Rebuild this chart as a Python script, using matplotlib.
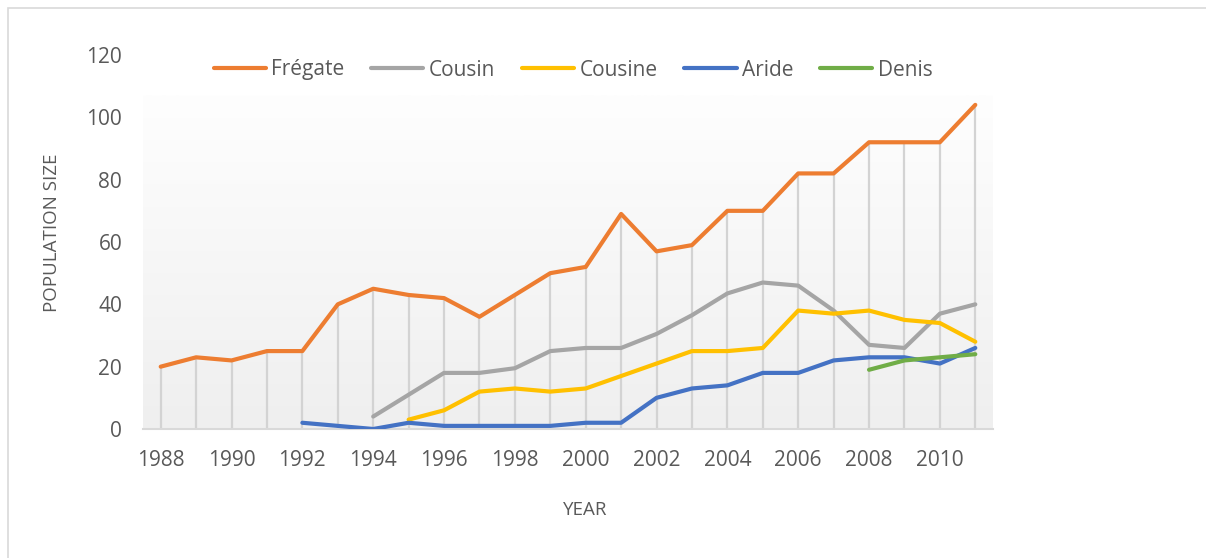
import numpy as np
import matplotlib
matplotlib.use('Agg')
from matplotlib import pyplot as plt
from matplotlib.patches import Rectangle
from matplotlib.colors import LinearSegmentedColormap

years = list(range(1988, 2012))
fregate = [20, 23, 22, 25, 25, 40, 45, 43, 42, 36, 43, 50, 52, 69, 57, 59, 70, 70, 82, 82, 92, 92, 92, 104]
cousin_years = list(range(1994, 2012))
cousin = [4, 11, 18, 18, 19.5, 25, 26, 26, 30.5, 36.5, 43.5, 47, 46, 38, 27, 26, 37, 40]
cousine_years = list(range(1995, 2012))
cousine = [3, 6, 12, 13, 12, 13, 17, 21, 25, 25, 26, 38, 37, 38, 35, 34, 28]
aride_years = list(range(1992, 2012))
aride = [2, 1, 0, 2, 1, 1, 1, 1, 2, 2, 10, 13, 14, 18, 18, 22, 23, 23, 21, 26]
denis_years = [2008, 2009, 2010, 2011]
denis = [19, 22, 23, 24]

plt.rcParams['font.family'] = ['Open Sans', 'DejaVu Sans']
txt = '#595959'

fig = plt.figure(figsize=(12.06, 5.58), dpi=100)
# chart border (left and top visible)
fig.patches.append(Rectangle((8 / 1206, -0.1), 1.2, 1 - 8 / 558 + 0.1, transform=fig.transFigure,
                             fill=False, edgecolor='#d9d9d9', lw=1.2))

ax = fig.add_axes([143 / 1206, 1 - 429 / 558, 850 / 1206, 374 / 558])

# gradient plot area
grad = np.linspace(0, 1, 256).reshape(-1, 1)
cmap = LinearSegmentedColormap.from_list('g', ['#efefef', '#fefefe'])
ax.imshow(grad, cmap=cmap, aspect='auto', origin='lower',
          extent=[1987.5, 2011.5, 0, 107], zorder=0)

# drop lines
ax.vlines(years, 0, fregate, color='#d3d3d3', lw=1.6, zorder=1)

lw = 3
ax.plot(years, fregate, color='#ED7D31', lw=lw, label='Frégate', zorder=3, solid_capstyle='round')
ax.plot(cousin_years, cousin, color='#A5A5A5', lw=lw, label='Cousin', zorder=3, solid_capstyle='round')
ax.plot(cousine_years, cousine, color='#FFC000', lw=lw, label='Cousine', zorder=3, solid_capstyle='round')
ax.plot(aride_years, aride, color='#4472C4', lw=lw, label='Aride', zorder=3, solid_capstyle='round')
ax.plot(denis_years, denis, color='#70AD47', lw=lw, label='Denis', zorder=3, solid_capstyle='round')

ax.set_xlim(1987.5, 2011.5)
ax.set_ylim(0, 120)
ax.set_yticks(range(0, 121, 20))
ax.set_xticks(range(1988, 2011, 2))
for s in ['top', 'right', 'left']:
    ax.spines[s].set_visible(False)
ax.spines['bottom'].set_color('#d9d9d9')
ax.spines['bottom'].set_linewidth(1.5)
ax.tick_params(length=0, labelsize=15, colors=txt)
ax.tick_params(axis='x', pad=15)
ax.tick_params(axis='y', pad=15)
ax.set_facecolor('none')

fig.text(52 / 1206, 1 - 233 / 558, 'POPULATION SIZE', rotation=90, ha='center', va='center',
         fontsize=13.5, color=txt)
fig.text(585 / 1206, 1 - 510 / 558, 'YEAR', ha='center', va='center', fontsize=13.5, color=txt)

leg = fig.legend(loc='center', bbox_to_anchor=(573 / 1206, 1 - 70 / 558), ncol=5, frameon=False,
                 fontsize=15, handlelength=2.5, handletextpad=0.25, columnspacing=1.3)
for t in leg.get_texts():
    t.set_color(txt)

fig.savefig('out.png', dpi=100)
